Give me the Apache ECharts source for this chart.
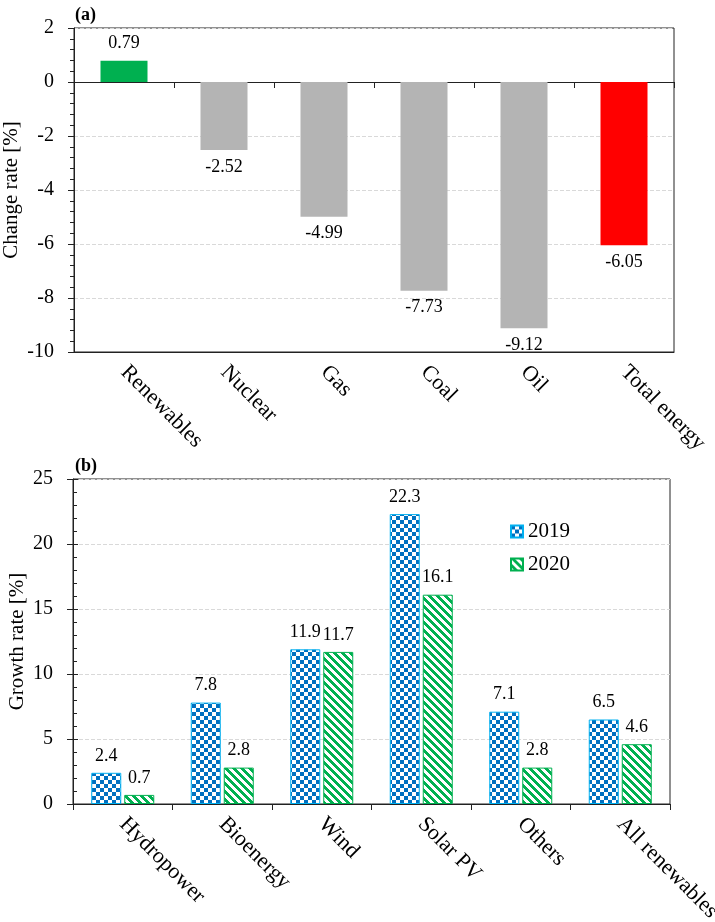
<!DOCTYPE html>
<html lang="en">
<head>
<meta charset="UTF-8">
<script src="https://cdn.jsdelivr.net/npm/echarts@6/dist/echarts.min.js"></script>
<style>
  html, body { margin: 0; padding: 0; background: #fff; }
  #chart { width: 715px; height: 922px; }
</style>
</head>
<body>
<div id="chart"></div>
<script>
// (a) change rate by energy source
const sources = ['Renewables', 'Nuclear', 'Gas', 'Coal', 'Oil', 'Total energy'];
const changeRate = [0.79, -2.52, -4.99, -7.73, -9.12, -6.05];
const changeColors = ['#00b050', '#b4b4b4', '#b4b4b4', '#b4b4b4', '#b4b4b4', '#ff0000'];

// (b) growth rate of renewables
const techs = ['Hydropower', 'Bioenergy', 'Wind', 'Solar PV', 'Others', 'All renewables'];
const growth2019 = [2.4, 7.8, 11.9, 22.3, 7.1, 6.5];
const growth2020 = [0.7, 2.8, 11.7, 16.1, 2.8, 4.6];

const FONT = '"Liberation Serif", "Times New Roman", serif';
const AXIS = '#222';

// checkerboard fill for 2019
function checker() {
    const c = document.createElement('canvas');
    c.width = 8; c.height = 8;
    const g = c.getContext('2d');
    g.fillStyle = '#fff'; g.fillRect(0, 0, 8, 8);
    g.fillStyle = '#0070c0';
    g.fillRect(0, 0, 4, 4);
    g.fillRect(4, 4, 4, 4);
    return c;
}

// diagonal stripes for 2020
function stripes() {
    const c = document.createElement('canvas');
    c.width = 8; c.height = 8;
    const g = c.getContext('2d');
    g.fillStyle = '#fff'; g.fillRect(0, 0, 8, 8);
    g.fillStyle = '#00b050';
    for (let y = 0; y < 8; y++) {
        for (let x = 0; x < 8; x++) {
            if (((x - y) % 8 + 8) % 8 < 4) g.fillRect(x, y, 1, 1);
        }
    }
    return c;
}

const chart = echarts.init(document.getElementById('chart'));

const valueLabel = { show: true, position: 'outside', distance: 8, fontSize: 18, fontFamily: FONT, color: '#000' };
const catLabel = { rotate: -45, margin: 17, fontSize: 22, fontFamily: FONT, color: '#000' };
const gridLine = { show: true, lineStyle: { color: '#d9d9d9', type: 'dashed', width: 1 } };

const option = {
    animation: false,
    backgroundColor: '#fff',
    title: [
        { text: '(a)', left: 70, top: 1, textStyle: { fontFamily: FONT, fontSize: 18, fontWeight: 'bold', color: '#000' } },
        { text: '(b)', left: 70, top: 452, textStyle: { fontFamily: FONT, fontSize: 18, fontWeight: 'bold', color: '#000' } }
    ],
    legend: {
        data: ['2019', '2020'],
        orient: 'vertical',
        left: 505,
        top: 516,
        itemWidth: 12,
        itemHeight: 12,
        itemGap: 12,
        icon: 'rect',
        textStyle: { fontFamily: FONT, fontSize: 21, color: '#000' }
    },
    grid: [
        { left: 74, top: 28, width: 600, height: 324, outerBoundsMode: 'none', containLabel: false,
          show: true, borderColor: AXIS, borderWidth: 1, backgroundColor: 'transparent' },
        { left: 73, top: 479, width: 597, height: 325, outerBoundsMode: 'none', containLabel: false,
          show: true, borderColor: AXIS, borderWidth: 1, backgroundColor: 'transparent' }
    ],
    xAxis: [
        {
            gridIndex: 0, type: 'category', data: sources, position: 'bottom',
            axisLine: { onZero: false, lineStyle: { color: AXIS } },
            axisTick: { show: false },
            axisLabel: catLabel
        },
        {
            gridIndex: 0, type: 'category', data: sources, position: 'top',
            axisLine: { onZero: true, lineStyle: { color: AXIS } },
            axisTick: { show: true, inside: true, length: 6, lineStyle: { color: AXIS } },
            axisLabel: { show: false }
        },
        {
            gridIndex: 1, type: 'category', data: techs, position: 'bottom',
            axisLine: { lineStyle: { color: AXIS } },
            axisTick: { show: true, length: 6, lineStyle: { color: AXIS } },
            axisLabel: catLabel
        }
    ],
    yAxis: [
        {
            gridIndex: 0, type: 'value', min: -10, max: 2, interval: 2, position: 'left',
            name: 'Change rate [%]', nameLocation: 'middle', nameGap: 52, nameMoveOverlap: false,
            nameTextStyle: { fontFamily: FONT, fontSize: 21, color: '#000' },
            axisLine: { show: true, lineStyle: { color: AXIS } },
            axisTick: { show: true, length: 6, lineStyle: { color: AXIS } },
            minorTick: { show: true, splitNumber: 5, length: 4, lineStyle: { color: AXIS } },
            splitLine: gridLine,
            axisLabel: { margin: 20, fontSize: 20, fontFamily: FONT, color: '#000' }
        },
        {
            gridIndex: 1, type: 'value', min: 0, max: 25, interval: 5, position: 'left',
            name: 'Growth rate [%]', nameLocation: 'middle', nameGap: 45, nameMoveOverlap: false,
            nameTextStyle: { fontFamily: FONT, fontSize: 21, color: '#000' },
            axisLine: { show: true, lineStyle: { color: AXIS } },
            axisTick: { show: true, inside: true, length: 5, lineStyle: { color: AXIS } },
            minorTick: { show: true, splitNumber: 5, length: 4, lineStyle: { color: AXIS } },
            splitLine: gridLine,
            axisLabel: { margin: 20, fontSize: 20, fontFamily: FONT, color: '#000' }
        },
        {
            // outer half of the crossing major ticks in (b)
            gridIndex: 1, type: 'value', min: 0, max: 25, interval: 5, position: 'left',
            axisLine: { show: false },
            axisTick: { show: true, length: 6, lineStyle: { color: AXIS } },
            splitLine: { show: false },
            axisLabel: { show: false }
        }
    ],
    series: [
        {
            name: 'change', type: 'bar', xAxisIndex: 0, yAxisIndex: 0,
            barWidth: 47,
            data: changeRate.map((v, i) => ({ value: v, itemStyle: { color: changeColors[i] } })),
            label: valueLabel
        },
        {
            name: '2019', type: 'bar', xAxisIndex: 2, yAxisIndex: 1,
            barWidth: 30, barGap: '10%',
            itemStyle: { color: { image: checker(), repeat: 'repeat' }, borderColor: '#00b0f0', borderWidth: 1 },
            data: growth2019,
            label: valueLabel
        },
        {
            name: '2020', type: 'bar', xAxisIndex: 2, yAxisIndex: 1,
            barWidth: 30, barGap: '10%',
            itemStyle: { color: { image: stripes(), repeat: 'repeat' }, borderColor: '#00b050', borderWidth: 1 },
            data: growth2020,
            label: valueLabel
        }
    ]
};

chart.setOption(option);
</script>
</body>
</html>
